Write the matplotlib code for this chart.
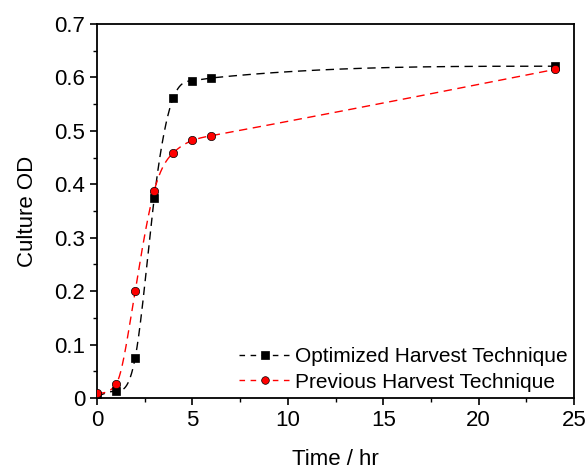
import numpy as np
import matplotlib
matplotlib.use("Agg")
import matplotlib.pyplot as plt
from matplotlib.ticker import MultipleLocator

plt.rcParams['font.family'] = ['Liberation Sans', 'DejaVu Sans']

time_hr = [0, 1, 2, 3, 4, 5, 6, 24]
od_optimized = [0.003, 0.013, 0.075, 0.374, 0.562, 0.594, 0.599, 0.621]
od_previous = [0.009, 0.026, 0.201, 0.388, 0.459, 0.482, 0.491, 0.615]


def spline_slopes(x, y):
    """Knot derivatives of a natural cubic spline."""
    n = len(x)
    h = np.diff(x)
    A = np.zeros((n, n))
    b = np.zeros(n)
    A[0, 0] = A[-1, -1] = 1.0
    for i in range(1, n - 1):
        A[i, i - 1] = h[i - 1]
        A[i, i] = 2 * (h[i - 1] + h[i])
        A[i, i + 1] = h[i]
        b[i] = 3 * ((y[i + 1] - y[i]) / h[i] - (y[i] - y[i - 1]) / h[i - 1])
    c = np.linalg.solve(A, b)
    d = np.empty(n)
    for i in range(n - 1):
        d[i] = (y[i + 1] - y[i]) / h[i] - h[i] * (2 * c[i] + c[i + 1]) / 3
    d[-1] = (y[-1] - y[-2]) / h[-1] + h[-1] * (c[-2] + 2 * c[-1]) / 3
    return d


def smooth_curve(x, y, xs):
    """Spline through the points, limited so it never overshoots."""
    x = np.asarray(x, float)
    y = np.asarray(y, float)
    h = np.diff(x)
    delta = np.diff(y) / h
    d = spline_slopes(x, y)
    n = len(x)
    for i in range(n):
        for k in (i - 1, i):
            if 0 <= k < n - 1 and d[i] * delta[k] < 0:
                d[i] = 0.0
    for k in range(n - 1):
        if delta[k] == 0:
            d[k] = d[k + 1] = 0.0
            continue
        a, bb = d[k] / delta[k], d[k + 1] / delta[k]
        r = a * a + bb * bb
        if r > 9:
            tau = 3 / np.sqrt(r)
            d[k] = tau * a * delta[k]
            d[k + 1] = tau * bb * delta[k]
    out = np.empty_like(xs)
    for j, xv in enumerate(xs):
        k = min(max(np.searchsorted(x, xv) - 1, 0), n - 2)
        t = (xv - x[k]) / h[k]
        h00 = 2 * t ** 3 - 3 * t ** 2 + 1
        h10 = t ** 3 - 2 * t ** 2 + t
        h01 = -2 * t ** 3 + 3 * t ** 2
        h11 = t ** 3 - t ** 2
        out[j] = (h00 * y[k] + h10 * h[k] * d[k] + h01 * y[k + 1]
                  + h11 * h[k] * d[k + 1])
    return out


fig = plt.figure(figsize=(5.88, 4.70), dpi=100)
ax = fig.add_axes([97 / 588, 72 / 470, 477 / 588, 374 / 470])

xs = np.linspace(time_hr[0], time_hr[-1], 1500)

series = [
    (od_optimized, 'black', 's', 'Optimized Harvest Technique'),
    (od_previous, 'red', 'o', 'Previous Harvest Technique'),
]
for vals, col, mk, lab in series:
    ax.plot(xs, smooth_curve(time_hr, vals, xs), color=col, lw=1.0,
            dashes=(6, 4), zorder=2)
    ax.plot(time_hr, vals, linestyle='none', marker=mk, markersize=6,
            markerfacecolor=col, markeredgecolor='black', markeredgewidth=0.5,
            zorder=3)
    ax.plot([], [], color=col, lw=1.0, dashes=(4, 4), marker=mk,
            markersize=5.5, markerfacecolor=col, markeredgecolor='black',
            markeredgewidth=0.5, label=lab)

ax.set_xlim(0, 25)
ax.set_ylim(0, 0.7)
ax.xaxis.set_major_locator(MultipleLocator(5))
ax.xaxis.set_minor_locator(MultipleLocator(2.5))
ax.yaxis.set_major_locator(MultipleLocator(0.1))
ax.yaxis.set_minor_locator(MultipleLocator(0.05))
ax.yaxis.set_major_formatter(plt.FuncFormatter(lambda v, p: '0' if abs(v) < 1e-9 else f'{v:.1f}'))

ax.tick_params(which='major', direction='out', length=5, width=1.2,
               labelsize=16, top=False, right=False)
ax.tick_params(which='minor', direction='out', length=3, width=1.0,
               top=False, right=False)
for sp in ax.spines.values():
    sp.set_linewidth(1.3)

ax.set_xlabel('Time / hr', fontsize=16, labelpad=13)
ax.set_ylabel('Culture OD', fontsize=16, labelpad=12)

ax.legend(loc='lower right', frameon=False, fontsize=15, handlelength=2.5,
          handletextpad=0.2, borderpad=0.1, borderaxespad=0.2,
          labelspacing=0.3, bbox_to_anchor=(1.0, 0.0))

fig.savefig('out.png', dpi=100)
